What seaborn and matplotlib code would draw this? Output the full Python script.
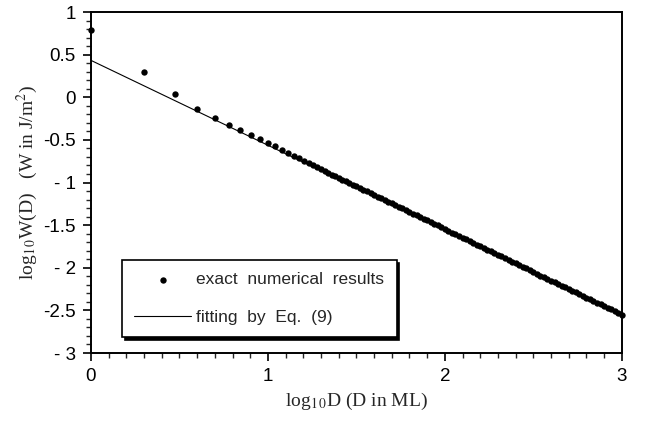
import numpy as np
import pandas as pd
import seaborn as sns
import matplotlib.pyplot as plt
from matplotlib.ticker import MultipleLocator, FixedLocator, FixedFormatter

# exact numerical results, first points (D = 1..20 ML)
d_first = [1, 2, 3, 4, 5, 6, 7, 8, 9, 10, 11, 12, 13, 14, 15, 16, 17, 18, 19, 20]
logw_first = [0.79, 0.30, 0.04, -0.14, -0.24, -0.325, -0.385, -0.44, -0.488, -0.533,
              -0.576, -0.615, -0.652, -0.685, -0.716, -0.745, -0.772, -0.797, -0.821, -0.844]

# dense part of the exact results (read along the band), log10 D and log10 W
logd_tail = [1.32, 1.34, 1.36, 1.38, 1.40, 1.42, 1.44, 1.46, 1.48, 1.50,
             1.52, 1.54, 1.56, 1.58, 1.60, 1.62, 1.64, 1.66, 1.68, 1.70,
             1.72, 1.74, 1.76, 1.78, 1.80, 1.82, 1.84, 1.86, 1.88, 1.90,
             1.92, 1.94, 1.96, 1.98, 2.00, 2.02, 2.04, 2.06, 2.08, 2.10,
             2.12, 2.14, 2.16, 2.18, 2.20, 2.22, 2.24, 2.26, 2.28, 2.30,
             2.32, 2.34, 2.36, 2.38, 2.40, 2.42, 2.44, 2.46, 2.48, 2.50,
             2.52, 2.54, 2.56, 2.58, 2.60, 2.62, 2.64, 2.66, 2.68, 2.70,
             2.72, 2.74, 2.76, 2.78, 2.80, 2.82, 2.84, 2.86, 2.88, 2.90,
             2.92, 2.94, 2.96, 2.98, 3.00]
logw_tail = [-0.866, -0.886, -0.906, -0.926, -0.946, -0.966, -0.986, -1.006, -1.026, -1.046,
             -1.066, -1.085, -1.105, -1.125, -1.145, -1.165, -1.185, -1.205, -1.225, -1.245,
             -1.265, -1.285, -1.304, -1.324, -1.344, -1.364, -1.384, -1.404, -1.424, -1.444,
             -1.464, -1.484, -1.504, -1.524, -1.543, -1.568, -1.588, -1.608, -1.628, -1.648,
             -1.668, -1.688, -1.708, -1.728, -1.748, -1.768, -1.787, -1.807, -1.827, -1.847,
             -1.867, -1.887, -1.907, -1.927, -1.947, -1.967, -1.987, -2.006, -2.026, -2.046,
             -2.071, -2.091, -2.111, -2.131, -2.151, -2.171, -2.191, -2.211, -2.231, -2.250,
             -2.270, -2.290, -2.310, -2.330, -2.350, -2.370, -2.390, -2.410, -2.430, -2.450,
             -2.469, -2.489, -2.509, -2.529, -2.549]

# fitting by Eq. (9)
logd_fit = [0.0, 3.0]
logw_fit = [0.433, -2.554]

ytick_vals = [-3, -2.5, -2, -1.5, -1, -0.5, 0, 0.5, 1]
ytick_labels = ['- 3', '-2.5', '- 2', '-1.5', '- 1', '-0.5', '0', '0.5', '1']
xtick_vals = [0, 1, 2, 3]
xtick_labels = ['0', '1', '2', '3']

sns.set_style('ticks')
plt.rcParams['font.family'] = ['Liberation Sans', 'DejaVu Sans']
plt.rcParams['mathtext.fontset'] = 'stix'

exact = pd.DataFrame({
    'logd': list(np.log10(d_first)) + logd_tail,
    'logw': logw_first + logw_tail,
})
fit = pd.DataFrame({'logd': logd_fit, 'logw': logw_fit})

fig = plt.figure(figsize=(6.45, 4.22), dpi=100)
ax = fig.add_axes([0.141, 0.1635, 0.823, 0.808])

sns.scatterplot(data=exact, x='logd', y='logw', ax=ax, color='black', s=21,
                linewidth=0, label='exact  numerical  results', clip_on=False, zorder=3)
sns.lineplot(data=fit, x='logd', y='logw', ax=ax, color='black', linewidth=0.8,
             label='fitting  by  Eq.  (9)')

ax.set_xlim(0, 3)
ax.set_ylim(-3, 1)
ax.xaxis.set_major_locator(FixedLocator(xtick_vals))
ax.xaxis.set_major_formatter(FixedFormatter(xtick_labels))
ax.yaxis.set_major_locator(FixedLocator(ytick_vals))
ax.yaxis.set_major_formatter(FixedFormatter(ytick_labels))
ax.xaxis.set_minor_locator(MultipleLocator(0.1))
ax.yaxis.set_minor_locator(MultipleLocator(0.1))
ax.tick_params(which='major', direction='out', length=6, width=1.2, labelsize=13.5, pad=5,
               colors='black')
ax.tick_params(which='minor', direction='out', length=3.5, width=1.0)
for sp in ax.spines.values():
    sp.set_linewidth(1.4)
    sp.set_color('black')

ax.set_xlabel(r'log$_{1\,0}$D (D in ML)', family='Liberation Serif', fontsize=14, labelpad=4)
ax.set_ylabel(r'log$_{1\,0}$W(D)   (W in J/m$^2$)', family='Liberation Serif', fontsize=14,
              labelpad=2)

leg = ax.legend(loc='lower left', bbox_to_anchor=(0.058, 0.047), borderaxespad=0,
                fontsize=12.5, frameon=True, fancybox=False, edgecolor='black',
                shadow={'color': 'black', 'alpha': 1}, handlelength=3.3, handletextpad=0.3,
                borderpad=0.7, labelspacing=1.3, markerscale=1.0)
leg.get_frame().set_linewidth(1.2)

fig.savefig('out.png', dpi=100)
